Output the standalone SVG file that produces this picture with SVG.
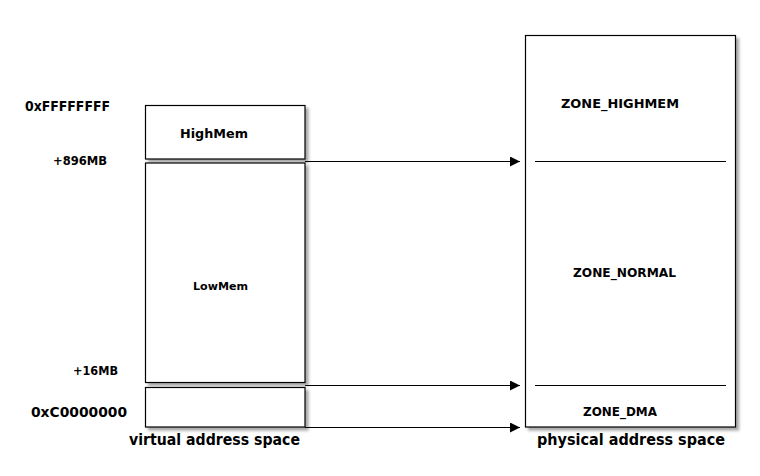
<svg xmlns="http://www.w3.org/2000/svg" width="760" height="476" viewBox="0 0 760 476">
<defs>
<filter id="sh" x="-10%" y="-10%" width="130%" height="130%">
<feDropShadow dx="3" dy="3" stdDeviation="1.6" flood-color="#000" flood-opacity="0.35"/>
</filter>
<marker id="ah" viewBox="0 0 10 10" refX="10" refY="5" markerWidth="10" markerHeight="10" markerUnits="userSpaceOnUse" orient="auto">
<path d="M0,0 L10,5 L0,10 z" fill="#000"/>
</marker>
</defs>
<style>
.box{fill:#fff;stroke:#000;stroke-width:1.2;filter:url(#sh)}
.t{font-family:"DejaVu Sans",sans-serif;font-weight:bold;fill:#000}
.ln{stroke:#000;stroke-width:1.2;fill:none}
</style>
<rect width="760" height="476" fill="#fff"/>
<g id="labels">
<text class="t" x="25" y="111" font-size="13.5" textLength="85" lengthAdjust="spacingAndGlyphs">0xFFFFFFFF</text>
<text class="t" x="53" y="165" font-size="11.5" textLength="54" lengthAdjust="spacingAndGlyphs">+896MB</text>
<text class="t" x="73" y="375" font-size="11.5" textLength="45" lengthAdjust="spacingAndGlyphs">+16MB</text>
<text class="t" x="31" y="417" font-size="14" textLength="96" lengthAdjust="spacingAndGlyphs">0xC0000000</text>
</g>
<g id="highmem">
<rect class="box" x="145.5" y="105.5" width="159.5" height="53.5"/>
<text class="t" x="180" y="138" font-size="12.5" textLength="68" lengthAdjust="spacingAndGlyphs">HighMem</text>
</g>
<g id="lowmem">
<rect class="box" x="145.5" y="163" width="159.5" height="219.5"/>
<text class="t" x="193" y="290" font-size="11" textLength="55" lengthAdjust="spacingAndGlyphs">LowMem</text>
</g>
<g id="dma-virt">
<rect class="box" x="145.5" y="387.5" width="159.5" height="39.5"/>
</g>
<g id="virtual-caption">
<text class="t" x="129" y="445" font-size="15" textLength="171" lengthAdjust="spacingAndGlyphs">virtual address space</text>
</g>
<g id="physical">
<rect class="box" x="525.5" y="35.5" width="210" height="391.5"/>
<line class="ln" x1="535" y1="161.5" x2="726" y2="161.5"/>
<line class="ln" x1="535" y1="385.5" x2="726" y2="385.5"/>
<text class="t" x="561" y="108" font-size="12.5" textLength="118" lengthAdjust="spacingAndGlyphs">ZONE_HIGHMEM</text>
<text class="t" x="573" y="277" font-size="12" textLength="103" lengthAdjust="spacingAndGlyphs">ZONE_NORMAL</text>
<text class="t" x="583" y="416" font-size="12" textLength="74" lengthAdjust="spacingAndGlyphs">ZONE_DMA</text>
</g>
<g id="physical-caption">
<text class="t" x="537" y="445" font-size="15" textLength="188" lengthAdjust="spacingAndGlyphs">physical address space</text>
</g>
<g id="connectors">
<line class="ln" x1="305" y1="161.5" x2="520" y2="161.5" marker-end="url(#ah)"/>
<line class="ln" x1="305" y1="385.5" x2="520" y2="385.5" marker-end="url(#ah)"/>
<line class="ln" x1="305" y1="427.5" x2="520" y2="427.5" marker-end="url(#ah)"/>
</g>
</svg>
